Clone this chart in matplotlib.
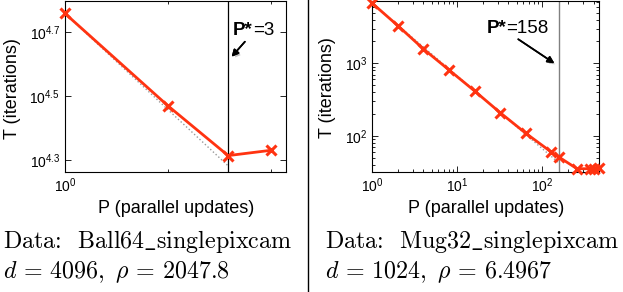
import numpy as np
import matplotlib
matplotlib.use("Agg")
import matplotlib.pyplot as plt
import matplotlib.ticker as mticker
import matplotlib.patheffects as pe
from matplotlib.lines import Line2D

plt.rcParams['font.family'] = ['Liberation Sans', 'DejaVu Sans']
plt.rcParams['mathtext.fontset'] = 'custom'
plt.rcParams['mathtext.rm'] = 'Liberation Sans'
plt.rcParams['mathtext.it'] = 'Liberation Sans:italic'
plt.rcParams['mathtext.bf'] = 'Liberation Sans:bold'

# ---- data ----
ball_P = [1, 2, 3, 4]
ball_T = [57400, 29500, 20600, 21400]
ball_Pstar = 3
ball_xlim = (1, 4.43)
ball_ylim = (10 ** 4.2625, 10 ** 4.798)
ball_yticks_exp = [4.3, 4.5, 4.7]

mug_P = [1, 2, 4, 8, 16, 32, 64, 128, 158, 256, 365, 400, 465]
mug_T = [6690, 3290, 1573, 809, 416, 209, 109, 60, 51, 35.5, 35.5, 35.5, 36.5]
mug_Pstar = 158
mug_xlim = (1, 468)
mug_ylim = (32.3, 7200)

red = '#ff3311'

fig = plt.figure(figsize=(6.23, 2.92), dpi=100)

W, H = 623, 292
def ax_rect(x0, x1, ytop, ybot):
    return [x0 / W, 1 - ybot / H, (x1 - x0) / W, (ybot - ytop) / H]

axL = fig.add_axes(ax_rect(65, 286, 1, 172))
axR = fig.add_axes(ax_rect(372.3, 599.3, 1, 171.7))

shadow = [pe.withSimplePatchShadow(offset=(1.5, -1.5), shadow_rgbFace='0.6', alpha=0.6), pe.Normal()]

def style(ax):
    for s in ax.spines.values():
        s.set_linewidth(0.8)
    ax.tick_params(which='both', direction='in', top=True, right=True, labelsize=10, width=0.6)
    ax.tick_params(which='major', length=4)
    ax.tick_params(which='minor', length=2)
    ax.set_xlabel('P (parallel updates)', fontsize=13)
    ax.set_ylabel('T (iterations)', fontsize=13)

def pstar_label(ax, x, y, value, fs=13.5):
    t1 = ax.text(x, y, 'P*', transform=ax.transAxes, fontsize=fs, fontweight='bold',
                 va='baseline', ha='left')
    ax.annotate('=' + value, xy=(1.0, y), xycoords=(t1, ax.transAxes), fontsize=fs,
                va='baseline', ha='left')

# ---- left: Ball64 ----
ax = axL
ax.set_xscale('log')
ax.set_yscale('log')
ideal_P = np.array([ball_P[0], ball_Pstar], dtype=float)
ax.plot(ideal_P, ball_T[0] / ideal_P, linestyle=':', color='0.6', lw=1.0, zorder=2)
ax.axvline(ball_Pstar, color='black', lw=0.9, zorder=2)
ax.plot(ball_P, ball_T, color=red, lw=2.0, marker='x', ms=7, mew=2.2, zorder=3, clip_on=False)
ax.set_xlim(*ball_xlim)
ax.set_ylim(*ball_ylim)
ax.xaxis.set_major_locator(mticker.FixedLocator([1]))
ax.xaxis.set_major_formatter(mticker.FixedFormatter([r'$10^0$']))
ax.xaxis.set_minor_locator(mticker.FixedLocator([2, 3, 4]))
ax.xaxis.set_minor_formatter(mticker.NullFormatter())
ax.yaxis.set_major_locator(mticker.FixedLocator([10 ** e for e in ball_yticks_exp]))
ax.yaxis.set_major_formatter(mticker.FixedFormatter([r'$10^{%g}$' % e for e in ball_yticks_exp]))
ax.yaxis.set_minor_locator(mticker.NullLocator())
style(ax)
ax.xaxis.set_label_coords(0.502, -0.165)
ax.yaxis.set_label_coords(-0.2, 0.49)
pstar_label(ax, 0.761, 0.80, '%d' % ball_Pstar)
ax.annotate('', xy=(0.754, 0.674), xycoords='axes fraction', xytext=(0.814, 0.762), textcoords='axes fraction',
            arrowprops=dict(arrowstyle='-|>', color='black', lw=1.2, mutation_scale=10, shrinkA=0, shrinkB=0,
                            path_effects=shadow))

# ---- right: Mug32 ----
ax = axR
ax.set_xscale('log')
ax.set_yscale('log')
ideal_P = np.array([mug_P[0], mug_Pstar], dtype=float)
ax.plot(ideal_P, mug_T[0] / ideal_P, linestyle=':', color='0.6', lw=1.0, zorder=2)
ax.axvline(mug_Pstar, color='0.5', lw=1.0, zorder=2)
ax.plot(mug_P, mug_T, color=red, lw=2.0, marker='x', ms=7, mew=2.2, zorder=3, clip_on=False)
ax.set_xlim(*mug_xlim)
ax.set_ylim(*mug_ylim)
ax.xaxis.set_major_locator(mticker.LogLocator(base=10, numticks=10))
ax.xaxis.set_minor_locator(mticker.LogLocator(base=10, subs=np.arange(2, 10), numticks=20))
ax.xaxis.set_minor_formatter(mticker.NullFormatter())
ax.yaxis.set_major_locator(mticker.FixedLocator([100, 1000]))
ax.yaxis.set_major_formatter(mticker.FixedFormatter([r'$10^2$', r'$10^3$']))
ax.yaxis.set_minor_locator(mticker.LogLocator(base=10, subs=np.arange(2, 10), numticks=20))
ax.yaxis.set_minor_formatter(mticker.NullFormatter())
style(ax)
ax.xaxis.set_label_coords(0.5, -0.165)
ax.yaxis.set_label_coords(-0.16, 0.49)
pstar_label(ax, 0.504, 0.814, '%d' % mug_Pstar)
ax.annotate('', xy=(0.802, 0.635), xycoords='axes fraction', xytext=(0.643, 0.776), textcoords='axes fraction',
            arrowprops=dict(arrowstyle='-|>', color='black', lw=1.2, mutation_scale=10, shrinkA=0, shrinkB=0,
                            path_effects=shadow))

# ---- captions ----
cap = dict(fontsize=17.3, math_fontfamily='cm', va='baseline', ha='left')
fig.text(3 / W, 1 - 248 / H, r'$\text{Data:  Ball64}\_\text{singlepixcam}$', **cap)
fig.text(3 / W, 1 - 278 / H, r'$d\,=\,4096,\ \rho\,=\,2047.8$', **cap)
fig.text(325 / W, 1 - 248 / H, r'$\text{Data:  Mug32}\_\text{singlepixcam}$', **cap)
fig.text(325 / W, 1 - 278 / H, r'$d\,=\,1024,\ \rho\,=\,6.4967$', **cap)

fig.add_artist(Line2D([308 / W, 308 / W], [0.0, 1.0], transform=fig.transFigure, color='black', lw=1.0))

fig.savefig('out.png', dpi=100)
